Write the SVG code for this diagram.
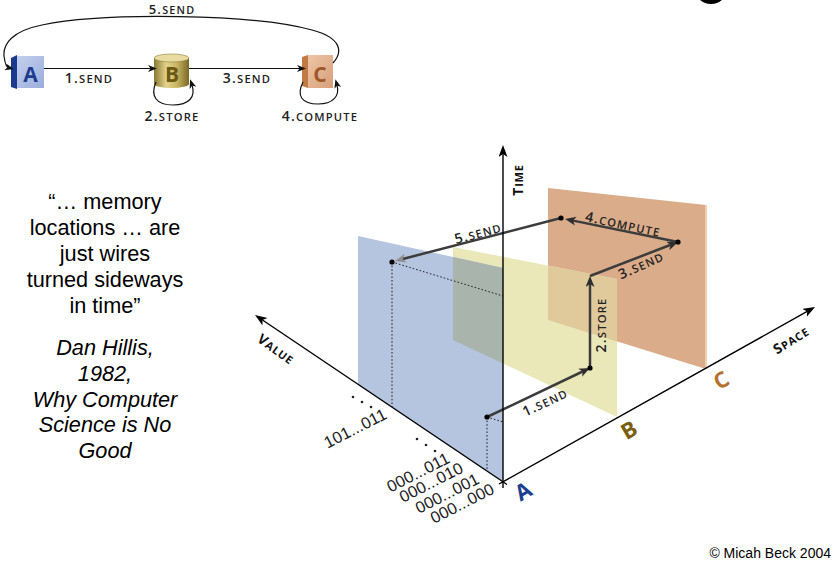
<svg xmlns="http://www.w3.org/2000/svg" width="840" height="572" viewBox="0 0 840 572">
<style>
.sc{font-family:"Open Sans","DejaVu Sans",sans-serif;font-weight:600;fill:#222;letter-spacing:1.2px}
.big{font-size:14px}
.sm{font-size:11.2px}
.ax{font-family:"Open Sans","DejaVu Sans",sans-serif;font-weight:700;fill:#111;letter-spacing:0.8px}
.q{font-family:"Liberation Sans",Arial,sans-serif;font-size:21.7px;fill:#000;text-anchor:middle}
.qi{font-style:italic}
.val{font-family:"Liberation Sans",Arial,sans-serif;font-size:16.5px;fill:#222;text-anchor:middle}
.boxlet{font-family:"Open Sans","DejaVu Sans",sans-serif;font-weight:700;font-size:21px;text-anchor:middle}
.spl{font-family:"Open Sans","DejaVu Sans",sans-serif;font-weight:700;font-size:22px;text-anchor:middle}
.conn{fill:none;stroke:#3c3c3c;stroke-width:2.5}
.tconn{fill:none;stroke:#111;stroke-width:1.2}
.axis{fill:none;stroke:#000;stroke-width:1.4}
.dot{fill:none;stroke:#111;stroke-width:0.9;stroke-dasharray:1.6 2}
</style>
<defs>
<marker id="mDark" markerUnits="userSpaceOnUse" markerWidth="12" markerHeight="10" refX="4" refY="4.5" orient="auto">
<path d="M0,0 L11,4.5 L0,9 L3,4.5 Z" fill="#2e2e2e"/>
</marker>
<marker id="mGrey" markerUnits="userSpaceOnUse" markerWidth="12" markerHeight="10" refX="4" refY="4.5" orient="auto">
<path d="M0,0 L11,4.5 L0,9 L3,4.5 Z" fill="#8e8e8e"/>
</marker>
<marker id="mAxis" markerUnits="userSpaceOnUse" markerWidth="13" markerHeight="10" refX="3" refY="4.5" orient="auto">
<path d="M0,0 L12,4.5 L0,9 L3,4.5 Z" fill="#000"/>
</marker>
<marker id="mTop" markerUnits="userSpaceOnUse" markerWidth="10" markerHeight="8" refX="3" refY="3.5" orient="auto">
<path d="M0,0 L9,3.5 L0,7 L2.5,3.5 Z" fill="#111"/>
</marker>
<linearGradient id="gA" x1="0" y1="0" x2="1" y2="1">
<stop offset="0" stop-color="#c3d0ee"/><stop offset="1" stop-color="#9aaddb"/>
</linearGradient>
<linearGradient id="gB" x1="0" y1="0" x2="1" y2="0">
<stop offset="0" stop-color="#8a7830"/><stop offset="0.35" stop-color="#e2d38e"/><stop offset="0.65" stop-color="#c9b562"/><stop offset="1" stop-color="#7a6826"/>
</linearGradient>
<linearGradient id="gC" x1="0" y1="0" x2="1" y2="1">
<stop offset="0" stop-color="#ecc6a8"/><stop offset="1" stop-color="#d89f78"/>
</linearGradient>
<linearGradient id="g5" gradientUnits="userSpaceOnUse" x1="561" y1="218" x2="395" y2="261">
<stop offset="0" stop-color="#3a3a3a"/><stop offset="0.45" stop-color="#484848"/><stop offset="1" stop-color="#9a9a9a"/>
</linearGradient>
<linearGradient id="g1" gradientUnits="userSpaceOnUse" x1="487" y1="417" x2="590" y2="368">
<stop offset="0" stop-color="#9a9a9a"/><stop offset="0.3" stop-color="#505050"/><stop offset="1" stop-color="#3a3a3a"/>
</linearGradient>
</defs>

<rect width="840" height="572" fill="#fff"/>
<ellipse cx="711" cy="-13" rx="17" ry="17" fill="#000"/>

<!-- top diagram nodes -->
<g id="node-A">
<polygon points="11,58 17,55 17,89 11,87" fill="#1b3a8e"/>
<rect x="17" y="56" width="27" height="32" fill="url(#gA)"/>
<text x="30.5" y="82" class="boxlet" fill="#1d3b8f">A</text>
</g>
<g id="node-B">
<path d="M154,58 L154,84 A17.5,4 0 0 0 189,84 L189,58 Z" fill="url(#gB)"/>
<ellipse cx="171.5" cy="58" rx="17.5" ry="4" fill="#e8dca2" stroke="#8c7c36" stroke-width="0.6"/>
<text x="172" y="82" class="boxlet" fill="#6b5812">B</text>
</g>
<g id="node-C">
<polygon points="302,57 308,55 308,88 302,86" fill="#c17a42"/>
<rect x="308" y="55" width="25" height="33" fill="url(#gC)"/>
<text x="320" y="82" class="boxlet" fill="#a0582a">C</text>
</g>

<g id="connectors-top">
<path class="tconn" d="M44,68.5 L151,68.5" marker-end="url(#mTop)"/>
<path class="tconn" d="M189,68.5 L300,68.5" marker-end="url(#mTop)"/>
<path class="tconn" d="M156,82 C150,96 156,105 173,105 C189,105 196,97 192,85" marker-end="url(#mTop)"/>
<path class="tconn" d="M303,82 C296,96 302,104 318,104 C333,104 340,96 337,85" marker-end="url(#mTop)"/>
<path class="tconn" d="M333,63 C343,52 342,38 312,30 C255,14 105,12 42,25 C12,31 3,44 4,56 C5,63 6,67 8,67.5" marker-end="url(#mTop)"/>
</g>
<g id="labels-top">
<text class="sc" x="89" y="83" text-anchor="middle"><tspan class="big">1.</tspan><tspan class="sm">SEND</tspan></text>
<text class="sc" x="247" y="83" text-anchor="middle"><tspan class="big">3.</tspan><tspan class="sm">SEND</tspan></text>
<text class="sc" x="172" y="121" text-anchor="middle"><tspan class="big">2.</tspan><tspan class="sm">STORE</tspan></text>
<text class="sc" x="320" y="121" text-anchor="middle"><tspan class="big">4.</tspan><tspan class="sm">COMPUTE</tspan></text>
<text class="sc" x="172" y="14" text-anchor="middle"><tspan font-size="13">5.</tspan><tspan font-size="10.8">SEND</tspan></text>
</g>

<!-- quote -->
<g id="quote">
<text class="q" x="105" y="209">“… memory</text>
<text class="q" x="105" y="235">locations … are</text>
<text class="q" x="105" y="261">just wires</text>
<text class="q" x="105" y="287">turned sideways</text>
<text class="q" x="105" y="313">in time”</text>
<text class="q qi" x="105" y="355">Dan Hillis,</text>
<text class="q qi" x="105" y="381">1982,</text>
<text class="q qi" x="105" y="407">Why Computer</text>
<text class="q qi" x="105" y="432">Science is No</text>
<text class="q qi" x="105" y="458">Good</text>
</g>

<!-- planes -->
<g id="plane-C">
<polygon points="548,188 706,205 706,369 548,320" fill="#dbac89"/>
<line x1="706" y1="205" x2="706" y2="369" stroke="#f1cdb1" stroke-width="2"/>
</g>
<g id="plane-B">
<polygon points="453,247 617,279 617,417 453,340" fill="#eae7b8"/>
<polygon points="548,265.5 617,279 617,341.5 548,320" fill="#e0ca9c"/>
</g>
<g id="plane-A">
<polygon points="358,236 503,268 503,482 358,385" fill="#b5c4df"/>
<polygon points="453,257 503,268 503,363.5 453,340" fill="#a9b4ac"/>
</g>

<!-- dotted projection lines -->
<g id="projections">
<path class="dot" d="M392,262 L392,407"/>
<path class="dot" d="M392,262 L503,296"/>
<path class="dot" d="M487,417 L487,470"/>
<path class="dot" d="M487,417 L503,422"/>
</g>

<!-- 3D connectors -->
<g id="connectors-3d">
<path class="conn" d="M487,417 L583.7,371" stroke="url(#g1)" marker-end="url(#mDark)"/>
<path class="conn" d="M590,368 L590,283" marker-end="url(#mDark)"/>
<path class="conn" d="M590,276 L671.5,244.5" marker-end="url(#mDark)"/>
<path class="conn" d="M678,242 L571.9,220.4" marker-end="url(#mDark)"/>
<path class="conn" d="M561,218 L401.8,259.2" stroke="url(#g5)" marker-end="url(#mGrey)"/>
</g>
<g id="points">
<circle cx="392" cy="262" r="2.6" fill="#000"/>
<circle cx="487" cy="417" r="2.6" fill="#000"/>
<circle cx="590" cy="368" r="2.6" fill="#000"/>
<circle cx="678" cy="242" r="2.6" fill="#000"/>
<circle cx="561" cy="218" r="2.6" fill="#000"/>
</g>

<!-- axes -->
<g id="axes">
<path class="axis" d="M503,488 L503,154" marker-end="url(#mAxis)"/>
<path class="axis" d="M507,484.5 L262.5,320" marker-end="url(#mAxis)"/>
<path class="axis" d="M499,484 L807.2,311.4" marker-end="url(#mAxis)"/>
</g>

<g id="labels-3d">
<text class="sc" transform="translate(478 233) rotate(-15)" y="5" text-anchor="middle"><tspan class="big">5.</tspan><tspan class="sm">SEND</tspan></text>
<text class="sc" transform="translate(623 224) rotate(12)" y="5" text-anchor="middle"><tspan class="big">4.</tspan><tspan class="sm">COMPUTE</tspan></text>
<text class="sc" transform="translate(641 265) rotate(-24)" y="5" text-anchor="middle"><tspan class="big">3.</tspan><tspan class="sm">SEND</tspan></text>
<text class="sc" transform="translate(601 325) rotate(-90)" y="5" text-anchor="middle"><tspan class="big">2.</tspan><tspan class="sm">STORE</tspan></text>
<text class="sc" transform="translate(545 402) rotate(-25)" y="5" text-anchor="middle"><tspan class="big">1.</tspan><tspan class="sm">SEND</tspan></text>
<text class="ax" transform="translate(518 180) rotate(-90)" y="5" text-anchor="middle"><tspan font-size="14">T</tspan><tspan font-size="11">IME</tspan></text>
<text class="ax" transform="translate(276 349) rotate(36)" y="5" text-anchor="middle"><tspan font-size="14">V</tspan><tspan font-size="11">ALUE</tspan></text>
<text class="ax" transform="translate(791 340) rotate(-32)" y="5" text-anchor="middle"><tspan font-size="14">S</tspan><tspan font-size="11">PACE</tspan></text>
<text class="spl" transform="translate(523 491) rotate(-30)" y="8" fill="#1e3f8f">A</text>
<text class="spl" transform="translate(629 430) rotate(-30)" y="8" fill="#7a5e10">B</text>
<text class="spl" transform="translate(721 380) rotate(-30)" y="8" fill="#b5702e">C</text>
</g>

<g id="value-labels">
<text class="val" transform="translate(355 428) rotate(-27)" y="6">101...011</text>
<text class="val" transform="translate(418 472) rotate(-27)" y="6">000...011</text>
<text class="val" transform="translate(431 482) rotate(-27)" y="6">000...010</text>
<text class="val" transform="translate(447 493) rotate(-27)" y="6">000...001</text>
<text class="val" transform="translate(462 503) rotate(-27)" y="6">000...000</text>
<circle cx="353" cy="397" r="1.3" fill="#222"/>
<circle cx="362" cy="402" r="1.3" fill="#222"/>
<circle cx="371" cy="407" r="1.3" fill="#222"/>
<circle cx="417" cy="439" r="1.3" fill="#222"/>
<circle cx="426" cy="445" r="1.3" fill="#222"/>
<circle cx="435" cy="451" r="1.3" fill="#222"/>
</g>

<text x="831" y="558" text-anchor="end" font-family="'Liberation Sans',Arial,sans-serif" font-size="14" fill="#000">© Micah Beck 2004</text>
</svg>
